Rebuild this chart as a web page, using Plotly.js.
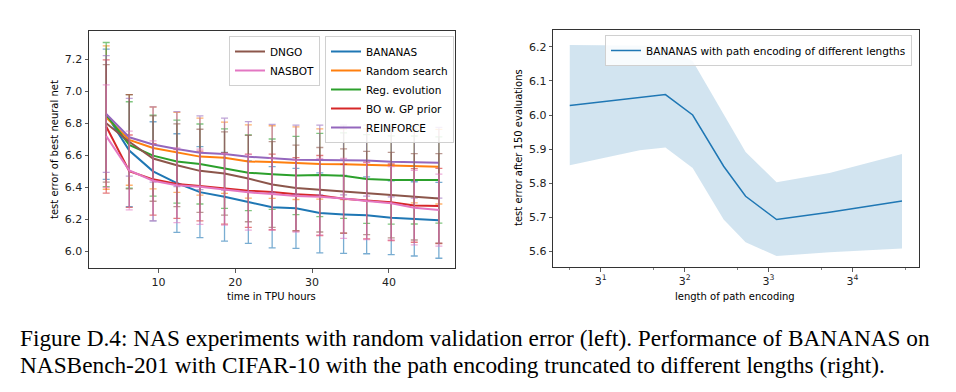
<!DOCTYPE html>
<html><head><meta charset="utf-8">
<script src="https://cdn.plot.ly/plotly-3.0.1.min.js"></script>
<style>html,body{margin:0;padding:0;background:#fff;} #chart{width:956px;height:392px;}</style>
</head><body><div id="chart"></div>
<script>
// ---- left panel data ----
const hours = [3.2, 6.2, 9.3, 12.4, 15.4, 18.6, 21.7, 24.8, 27.9, 31.0, 34.1, 37.1, 40.3, 43.3, 46.5];
const seriesNames = ["BANANAS", "Random search", "Reg. evolution", "BO w. GP prior", "REINFORCE", "DNGO", "NASBOT"];
const bananasMean = [6.857, 6.63, 6.50, 6.427, 6.37, 6.341, 6.308, 6.276, 6.269, 6.24, 6.231, 6.225, 6.21, 6.203, 6.194];
const bananasStd  = [0.407, 0.35, 0.31, 0.308, 0.284, 0.277, 0.258, 0.254, 0.25, 0.25, 0.244, 0.24, 0.23, 0.232, 0.237];
const randomMean  = [6.836, 6.696, 6.646, 6.619, 6.592, 6.585, 6.562, 6.558, 6.551, 6.546, 6.544, 6.54, 6.533, 6.533, 6.529];
const randomStd   = [0.448, 0.283, 0.256, 0.25, 0.24, 0.223, 0.229, 0.227, 0.227, 0.22, 0.22, 0.225, 0.23, 0.23, 0.233];
const regevoMean  = [6.855, 6.665, 6.598, 6.561, 6.546, 6.517, 6.491, 6.482, 6.474, 6.477, 6.473, 6.452, 6.446, 6.446, 6.446];
const regevoStd   = [0.45, 0.27, 0.253, 0.259, 0.25, 0.249, 0.237, 0.22, 0.245, 0.26, 0.267, 0.277, 0.276, 0.275, 0.27];
const boMean      = [6.78, 6.501, 6.45, 6.421, 6.408, 6.393, 6.379, 6.371, 6.357, 6.349, 6.329, 6.318, 6.307, 6.287, 6.284];
const boStd       = [0.416, 0.226, 0.223, 0.215, 0.218, 0.223, 0.229, 0.236, 0.229, 0.25, 0.215, 0.24, 0.239, 0.23, 0.235];
const reinforceMean = [6.858, 6.713, 6.668, 6.639, 6.616, 6.608, 6.591, 6.581, 6.573, 6.571, 6.571, 6.567, 6.56, 6.556, 6.554];
const reinforceStd  = [0.365, 0.243, 0.235, 0.234, 0.23, 0.225, 0.22, 0.213, 0.216, 0.218, 0.218, 0.222, 0.219, 0.223, 0.221];
const dngoMean    = [6.80, 6.685, 6.58, 6.538, 6.503, 6.487, 6.455, 6.418, 6.396, 6.385, 6.377, 6.365, 6.351, 6.341, 6.331];
const dngoStd     = [0.367, 0.295, 0.267, 0.259, 0.26, 0.26, 0.27, 0.268, 0.268, 0.264, 0.263, 0.26, 0.267, 0.27, 0.28];
const nasbotMean  = [6.72, 6.505, 6.441, 6.413, 6.404, 6.387, 6.369, 6.358, 6.346, 6.341, 6.331, 6.314, 6.30, 6.273, 6.258];
const nasbotStd   = [0.32, 0.246, 0.25, 0.234, 0.235, 0.223, 0.236, 0.225, 0.225, 0.24, 0.25, 0.24, 0.23, 0.233, 0.225];

// ---- right panel data ----
const pathLength = [2, 5, 7, 10, 15, 20, 30, 60, 155];
const pathMean   = [6.028, 6.05, 6.06, 6.0, 5.85, 5.762, 5.694, 5.715, 5.748];
const pathUpper  = [6.205, 6.205, 6.203, 6.158, 6.0, 5.892, 5.803, 5.83, 5.886];
const pathLower  = [5.853, 5.897, 5.905, 5.845, 5.694, 5.627, 5.587, 5.598, 5.609];
const rightLegend = "BANANAS with path encoding of different lengths";

const leftXTicks = [10, 20, 30, 40];
const leftYTicks = [6.0, 6.2, 6.4, 6.6, 6.8, 7.0, 7.2];
const rightXTicks = [3, 9, 27, 81];
const rightXTickText = ["3<sup>1</sup>", "3<sup>2</sup>", "3<sup>3</sup>", "3<sup>4</sup>"];
const rightXMinor = [2, 6, 18, 54, 162];
const rightYTicks = [5.6, 5.7, 5.8, 5.9, 6.0, 6.1, 6.2];

const captionLines = [
  "Figure D.4: NAS experiments with random validation error (left). Performance of BANANAS on",
  "NASBench-201 with CIFAR-10 with the path encoding truncated to different lengths (right)."
];

// ---- styling ----
const colors = ["#1f77b4", "#ff7f0e", "#2ca02c", "#d62728", "#9467bd", "#8c564b", "#e377c2"];
const barColors = ["rgba(31,119,180,0.6)", "rgba(255,127,14,0.6)", "rgba(44,160,44,0.6)", "rgba(214,39,40,0.6)",
                   "rgba(148,103,189,0.6)", "rgba(140,86,75,0.6)", "rgba(227,119,194,0.6)"];
const means = [bananasMean, randomMean, regevoMean, boMean, reinforceMean, dngoMean, nasbotMean];
const stds = [bananasStd, randomStd, regevoStd, boStd, reinforceStd, dngoStd, nasbotStd];
const legendOf = ["legend2", "legend2", "legend2", "legend2", "legend2", "legend", "legend"];

const W = 956, H = 392;
const px = v => v / W, py = v => 1 - v / H;

const traces = [];
seriesNames.forEach((name, i) => {
  traces.push({
    type: "scatter", mode: "lines", name: name, x: hours, y: means[i],
    xaxis: "x", yaxis: "y", legend: legendOf[i], legendrank: i + 1,
    line: {color: colors[i], width: 2},
    error_y: {type: "data", array: stds[i], visible: true, color: barColors[i], thickness: 1.3, width: 3.5}
  });
});
traces.push({type: "scatter", mode: "lines", x: pathLength, y: pathUpper, xaxis: "x2", yaxis: "y2",
  line: {width: 0, color: "rgba(0,0,0,0)"}, showlegend: false, hoverinfo: "skip"});
traces.push({type: "scatter", mode: "lines", x: pathLength, y: pathLower, xaxis: "x2", yaxis: "y2",
  line: {width: 0, color: "rgba(0,0,0,0)"}, fill: "tonexty", fillcolor: "rgba(31,119,180,0.2)",
  showlegend: false, hoverinfo: "skip"});
traces.push({type: "scatter", mode: "lines", name: rightLegend, x: pathLength, y: pathMean, xaxis: "x2", yaxis: "y2",
  legend: "legend3", line: {color: "#1f77b4", width: 1.5}});

const font = {family: "DejaVu Sans", size: 11, color: "#000"};
const axisCommon = {showline: true, mirror: true, linecolor: "#333", linewidth: 1, ticks: "outside",
  ticklen: 3.5, tickwidth: 0.8, tickcolor: "#333", showgrid: false, zeroline: false,
  tickfont: {family: "DejaVu Sans", size: 11, color: "#222"}};

const legendCommon = {bgcolor: "rgba(255,255,255,0.85)", bordercolor: "#d0d0d0", borderwidth: 1,
  font: {family: "DejaVu Sans", size: 10.5, color: "#000"}, xanchor: "left", yanchor: "top",
  tracegroupgap: 0, traceorder: "normal"};

const annotations = [
  {text: "test error of best neural net", x: px(54), y: py(150), textangle: -90},
  {text: "time in TPU hours", x: px(271), y: py(296)},
  {text: "test error after 150 evaluations", x: px(518), y: py(148), textangle: -90},
  {text: "length of path encoding", x: px(735), y: py(296)}
].map(a => Object.assign({xref: "paper", yref: "paper", showarrow: false, xanchor: "center", yanchor: "middle",
  font: {family: "DejaVu Sans", size: 10, color: "#000"}}, a));
captionLines.forEach((t, i) => annotations.push({text: t, xref: "paper", yref: "paper", showarrow: false,
  x: px(18), y: py(338 + i * 27), xanchor: "left", yanchor: "middle",
  font: {family: "Liberation Serif", size: 23.3, color: "#000"}}));

const layout = {
  width: W, height: H, margin: {l: 0, r: 0, t: 0, b: 0},
  paper_bgcolor: "#fff", plot_bgcolor: "#fff", font: font,
  xaxis: Object.assign({}, axisCommon, {domain: [px(89), px(455)], range: [0.96, 48.6],
    tickmode: "array", tickvals: leftXTicks, anchor: "y"}),
  yaxis: Object.assign({}, axisCommon, {domain: [py(268), py(31)], range: [5.896, 7.377],
    tickmode: "array", tickvals: leftYTicks, tickformat: ".1f", anchor: "x"}),
  xaxis2: Object.assign({}, axisCommon, {domain: [px(553.3), px(919)], type: "log",
    range: [0.2075, 2.287], tickmode: "array", tickvals: rightXTicks, ticktext: rightXTickText, anchor: "y2",
    minor: {tickmode: "array", tickvals: rightXMinor, ticks: "outside", ticklen: 2, tickcolor: "#333", tickwidth: 0.6}}),
  yaxis2: Object.assign({}, axisCommon, {domain: [py(267.3), py(30)], range: [5.554, 6.249],
    tickmode: "array", tickvals: rightYTicks, tickformat: ".1f", anchor: "x2"}),
  legend: Object.assign({}, legendCommon, {x: px(229), y: py(36)}),
  legend2: Object.assign({}, legendCommon, {x: px(325), y: py(36)}),
  legend3: Object.assign({}, legendCommon, {x: px(605), y: py(35)}),
  annotations: annotations,
  showlegend: true
};

Plotly.newPlot("chart", traces, layout, {staticPlot: true, displayModeBar: false});
</script>
</body></html>
